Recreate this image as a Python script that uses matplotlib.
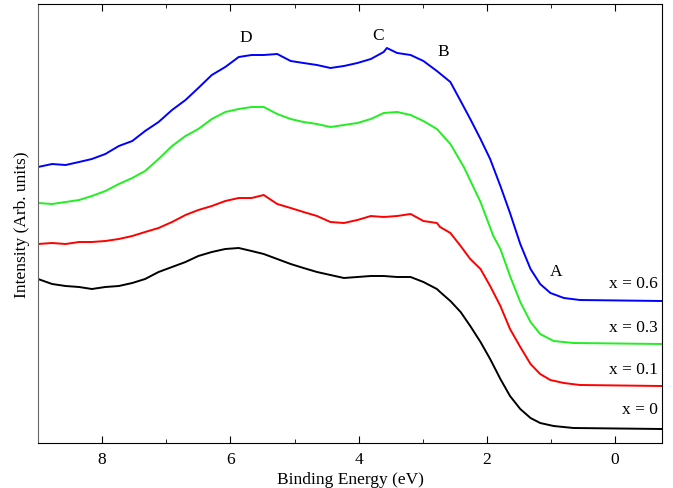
import matplotlib
matplotlib.use('Agg')
import matplotlib.pyplot as plt
from matplotlib.ticker import MultipleLocator

plt.rcParams['font.family'] = ['Liberation Serif', 'DejaVu Serif']

# binding energy (eV) and intensity (arb. units, offset curves)
e_black = [9.0, 8.78, 8.57, 8.36, 8.16, 7.95, 7.74, 7.53, 7.33, 7.12,
           6.91, 6.70, 6.50, 6.29, 6.08, 5.87, 5.67, 5.48, 5.27, 5.06,
           4.86, 4.65, 4.44, 4.23, 4.02, 3.81, 3.61, 3.40, 3.19, 2.99,
           2.78, 2.73, 2.57, 2.41, 2.26, 2.10, 1.95, 1.79, 1.64, 1.48,
           1.32, 1.17, 0.96, 0.65, -0.73]
i_black = [164, 159, 157, 156, 154, 156, 157, 160, 164, 171,
           176, 181, 187, 191, 194, 195, 192, 189, 184, 179,
           175, 171, 168, 165, 166, 167, 167, 166, 166, 161,
           154, 151, 142, 131, 117, 101, 84, 64, 47, 34,
           25, 20, 17, 15, 14]

e_red = [9.0, 8.78, 8.57, 8.36, 8.16, 7.95, 7.74, 7.53, 7.33, 7.12,
         6.91, 6.70, 6.50, 6.29, 6.08, 5.87, 5.67, 5.48, 5.27, 5.06,
         4.86, 4.65, 4.44, 4.23, 4.02, 3.81, 3.61, 3.40, 3.19, 2.99,
         2.78, 2.73, 2.57, 2.41, 2.26, 2.10, 1.95, 1.79, 1.64, 1.48,
         1.32, 1.17, 1.01, 0.80, 0.55, -0.73]
i_red = [199, 200, 199, 201, 201, 202, 204, 207, 211, 215,
         221, 228, 233, 237, 242, 245, 245, 248, 239, 235,
         231, 227, 221, 220, 223, 227, 226, 227, 229, 222,
         220, 216, 210, 197, 184, 174, 157, 137, 114, 96,
         79, 69, 63, 60, 58, 57]

e_green = [9.0, 8.78, 8.57, 8.36, 8.16, 7.95, 7.74, 7.53, 7.33, 7.12,
           6.91, 6.70, 6.50, 6.29, 6.08, 5.87, 5.67, 5.48, 5.27, 5.06,
           4.86, 4.65, 4.44, 4.23, 4.02, 3.81, 3.61, 3.40, 3.19, 2.99,
           2.78, 2.57, 2.36, 2.10, 1.90, 1.79, 1.64, 1.48, 1.32, 1.17,
           0.96, 0.65, -0.73]
i_green = [240, 239, 241, 243, 247, 252, 259, 265, 272, 284,
           297, 307, 314, 324, 331, 334, 336, 336, 329, 324,
           321, 319, 316, 318, 320, 324, 330, 331, 328, 322,
           314, 299, 276, 241, 207, 194, 167, 141, 121, 109,
           102, 100, 99]

e_blue = [9.0, 8.78, 8.57, 8.36, 8.16, 7.95, 7.74, 7.53, 7.33, 7.12,
          6.91, 6.70, 6.50, 6.29, 6.08, 5.87, 5.67, 5.48, 5.27, 5.06,
          4.86, 4.65, 4.44, 4.23, 4.02, 3.81, 3.61, 3.56, 3.40, 3.19,
          2.99, 2.78, 2.57, 2.41, 2.26, 2.10, 1.95, 1.79, 1.64, 1.48,
          1.32, 1.17, 1.01, 0.80, 0.55, -0.73]
i_blue = [276, 279, 278, 281, 284, 289, 297, 302, 312, 321,
          333, 343, 355, 368, 376, 386, 388, 388, 389, 382,
          380, 378, 375, 377, 380, 384, 391, 395, 390, 388,
          382, 372, 361, 342, 324, 304, 284, 257, 230, 199,
          174, 159, 150, 145, 143, 142]

names = ['x = 0', 'x = 0.1', 'x = 0.3', 'x = 0.6']
colors = ['black', 'red', '#22ee22', 'blue']
label_y = [34, 74, 116, 160]

peaks = ['D', 'C', 'B', 'A']
peak_x = [5.76, 3.69, 2.68, 0.92]
peak_y = [406, 408, 392, 172]

fig = plt.figure(figsize=(6.73, 4.89), dpi=100)
ax = fig.add_axes([38 / 673, 45 / 489, 624 / 673, 439 / 489])

curves = [(e_black, i_black), (e_red, i_red), (e_green, i_green), (e_blue, i_blue)]
for (xs, ys), c, lab, ly in zip(curves, colors, names, label_y):
    ax.plot(xs, ys, color=c, lw=1.4)
    ax.text(-0.67, ly, lab, ha='right', va='center', fontsize=12.5)

for p, px, py in zip(peaks, peak_x, peak_y):
    ax.text(px, py, p, ha='center', va='center', fontsize=12.5)

ax.set_xlim(9.0, -0.73)
ax.set_ylim(0, 439)
ax.xaxis.set_major_locator(MultipleLocator(2))
ax.xaxis.set_minor_locator(MultipleLocator(1))
ax.tick_params(axis='x', which='both', direction='in', top=True, labelsize=12.5, pad=6)
ax.tick_params(axis='x', which='major', length=5)
ax.tick_params(axis='x', which='minor', length=3)
ax.set_yticks([])
ax.spines['left'].set_color('0.4')
ax.set_xlabel('Binding Energy (eV)', fontsize=12.5, labelpad=3)
ax.set_ylabel('Intensity (Arb. units)', fontsize=12.5, labelpad=6)

fig.savefig('out.png', dpi=100)
